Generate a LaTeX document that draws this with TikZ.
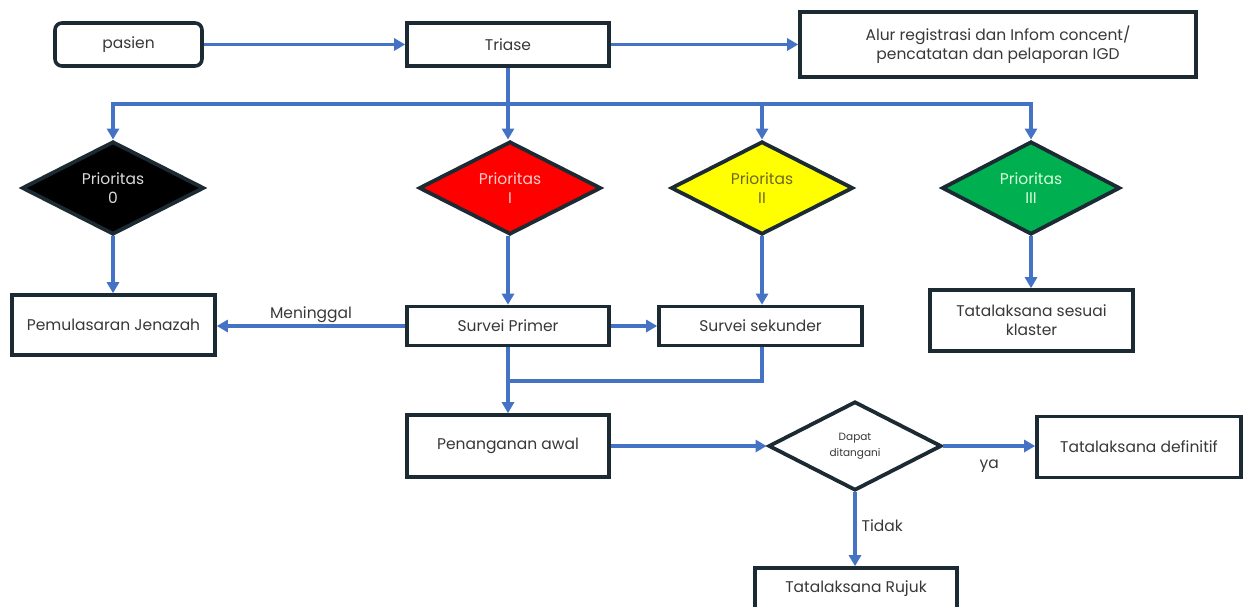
\documentclass[tikz,border=0pt]{standalone}
\usepackage{fontspec}
\setmainfont{Poppins}
\usetikzlibrary{shapes.geometric,arrows.meta}
\definecolor{flow}{HTML}{4472C4}
\definecolor{edge}{HTML}{1B2A33}
\definecolor{pred}{HTML}{FF0000}
\definecolor{pyellow}{HTML}{FFFF00}
\definecolor{pgreen}{HTML}{00B050}
\tikzset{
  box/.style={draw=edge, line width=3.6pt, fill=white, rectangle, align=center,
              font=\fontsize{15.5}{19}\selectfont, text=black!78, inner sep=2pt},
  choice/.style={diamond, draw=edge, line width=3.8pt, align=center, inner sep=0pt,
              font=\fontsize{15.5}{19}\selectfont},
  flowline/.style={draw=flow, line width=3.4pt},
  flowarrow/.style={flowline, -{Triangle[length=11pt,width=12pt]}},
  lbl/.style={font=\fontsize{15.5}{19}\selectfont, text=black!78, inner sep=1pt}
}
\begin{document}
\begin{tikzpicture}[x=1pt,y=-1pt]
\useasboundingbox (0,0) rectangle (1244,607);

% top row
\node[box, rounded corners=7pt, minimum width=147pt, minimum height=43pt] (pasien) at (128.5,44.5) {pasien};
\node[box, minimum width=202pt, minimum height=43pt] (triase) at (508,44.5) {Triase};
\node[box, minimum width=396pt, minimum height=65pt] (alur) at (998,44.5)
  {Alur registrasi dan Infom concent/\\pencatatan dan pelaporan IGD};

% priority diamonds
\node[choice, fill=black, text=white!85!black, minimum width=182pt, minimum height=92pt] (p0) at (113,188) {Prioritas\\0};
\node[choice, fill=pred, text=red!20!white, minimum width=182pt, minimum height=92pt] (p1) at (510,188) {Prioritas\\I};
\node[choice, fill=pyellow, text=olive!70!black, minimum width=182pt, minimum height=92pt] (p2) at (762,188) {Prioritas\\II};
\node[choice, fill=pgreen, text=green!15!white, minimum width=178pt, minimum height=92pt] (p3) at (1031,188) {Prioritas\\III};

% second row
\node[box, minimum width=203pt, minimum height=60pt] (jenazah) at (113.5,325) {Pemulasaran Jenazah};
\node[box, minimum width=202pt, minimum height=39pt] (primer) at (508,326) {Survei Primer};
\node[box, minimum width=203pt, minimum height=39pt] (sekunder) at (760.5,326) {Survei sekunder};
\node[box, minimum width=203pt, minimum height=61pt] (klaster) at (1031.5,320.5) {Tatalaksana sesuai\\klaster};

% lower part
\node[box, minimum width=202pt, minimum height=62pt] (awal) at (508,446) {Penanganan awal};
\node[choice, fill=white, text=black!78, font=\fontsize{10.5}{16}\selectfont,
      minimum width=173pt, minimum height=89pt] (dapat) at (855,446) {Dapat\\ditangani};
\node[box, minimum width=204pt, minimum height=61pt] (definitif) at (1139,447) {Tatalaksana definitif};
\node[box, minimum width=202pt, minimum height=60pt] (rujuk) at (856,598) {};
\node[lbl] (rujuktxt) at (856,589) {Tatalaksana Rujuk};

% routing points
\coordinate (split) at (508,104);
\coordinate (merge) at (508,381);

% connectors
\draw[flowarrow] (pasien.east) -- (triase.west);
\draw[flowarrow] (triase.east) -- (alur.west |- triase.east);
\draw[flowline] (triase.south) -- (split);
\draw[flowarrow] (split) -| (p0.north);
\draw[flowarrow] (split) -- (p1.north -| split);
\draw[flowarrow] (split) -| (p2.north);
\draw[flowarrow] (split) -| (p3.north);

\draw[flowarrow] (p0.south) -- (jenazah.north -| p0.south);
\draw[flowarrow] (p1.south -| primer.north) -- (primer.north);
\draw[flowarrow] (p2.south) -- (sekunder.north -| p2.south);
\draw[flowarrow] (p3.south) -- (klaster.north -| p3.south);

\draw[flowarrow] (primer.west) -- (jenazah.east |- primer.west)
  node[lbl, pos=0.5, above=1pt] (meninggal) {Meninggal};
\draw[flowarrow] (primer.east) -- (sekunder.west);

\draw[flowline] (primer.south) -- (merge);
\draw[flowline] (sekunder.south -| p2.south) |- (merge);
\draw[flowarrow] (merge) -- (awal.north);

\draw[flowarrow] (awal.east) -- (dapat.west |- awal.east);
\draw[flowarrow] (dapat.east) -- (definitif.west |- dapat.east)
  node[lbl, pos=0.5, below=11pt] (ya) {ya};
\draw[flowarrow] (dapat.south) -- (rujuk.north -| dapat.south)
  node[lbl, pos=0.45, right=4pt] (tidak) {Tidak};
\end{tikzpicture}
\end{document}
